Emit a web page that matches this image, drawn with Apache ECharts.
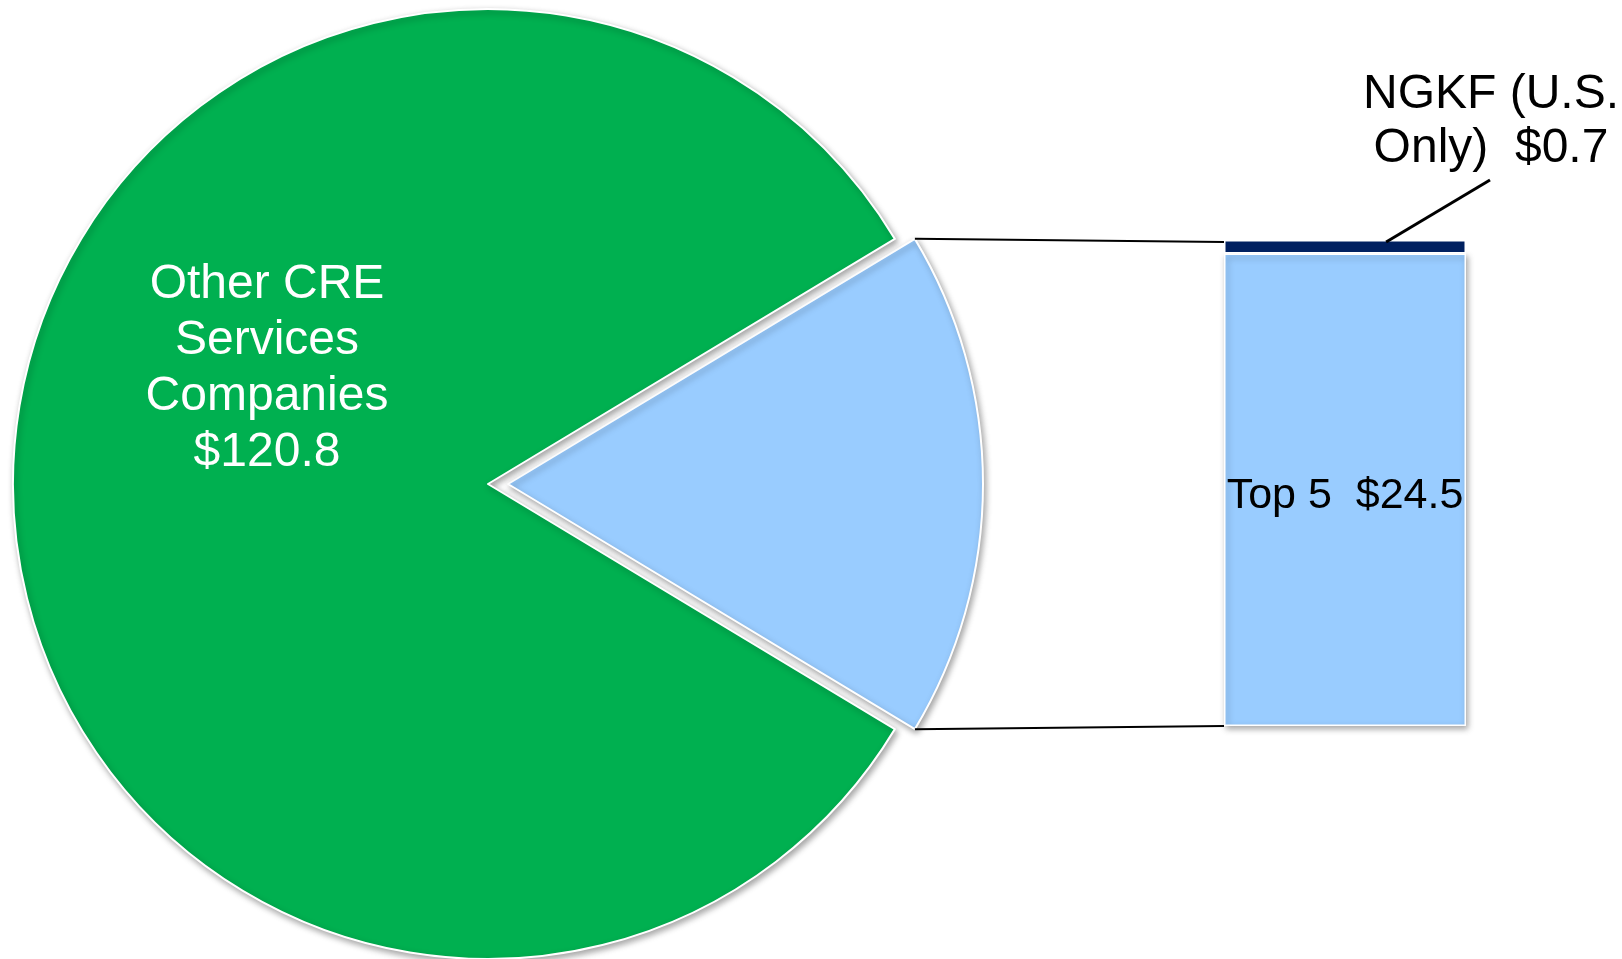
<!DOCTYPE html>
<html>
<head>
<meta charset="utf-8">
<script src="https://cdn.jsdelivr.net/npm/echarts@6/dist/echarts.min.js"></script>
<style>
html,body{margin:0;padding:0;background:#fff;}
#chart{width:1622px;height:959px;}
</style>
</head>
<body>
<div id="chart"></div>
<script>
// ---- data ----
const pieNames = ['Top 5 + NGKF', 'Other CRE Services Companies'];
const otherValue = 120.8;
const otherLabelLines = ['Other CRE', 'Services', 'Companies'];
const barNames = ['Top 5', 'NGKF (U.S. Only)'];
const barValues = [24.5, 0.7];
const barLabelTexts = ['Top 5  $24.5', 'NGKF (U.S.\nOnly)  $0.7'];

// ---- derived ----
const barTotal = barValues.reduce((a, b) => a + b, 0);
const pieTotal = barTotal + otherValue;
const halfAngle = 180 * barTotal / pieTotal; // degrees

// layout (styles/positions only)
const FONT = '"Liberation Sans", Arial, sans-serif';
const pieCenter = [488, 484];
const pieR = 475;
const explode = 20;
const grid = { left: 1224, top: 240, width: 242, height: 486 };

const chart = echarts.init(document.getElementById('chart'), null, { renderer: 'canvas' });

const shadow = { shadowBlur: 6, shadowOffsetX: 2, shadowOffsetY: 3, shadowColor: 'rgba(0,0,0,0.35)' };

const option = {
  animation: false,
  backgroundColor: '#ffffff',
  grid: { left: grid.left, top: grid.top, width: grid.width, height: grid.height },
  xAxis: { type: 'category', data: ['Breakdown'], show: false },
  yAxis: { type: 'value', min: 0, max: barTotal, show: false, splitLine: { show: false } },
  series: [
    {
      type: 'pie',
      center: pieCenter,
      radius: pieR,
      startAngle: halfAngle,
      clockwise: true,
      selectedMode: 'single',
      selectedOffset: explode,
      avoidLabelOverlap: false,
      itemStyle: Object.assign({ borderColor: '#ffffff', borderWidth: 2 }, shadow),
      emphasis: { disabled: true },
      label: {
        show: true,
        position: 'inside',
        color: '#ffffff',
        fontFamily: FONT,
        fontSize: 48,
        lineHeight: 56,
        align: 'center'
      },
      labelLine: { show: false },
      labelLayout: function (params) {
        if (params.dataIndex === 1) {
          return { x: 267, y: 369, align: 'center', verticalAlign: 'middle' };
        }
        return {};
      },
      data: [
        { name: pieNames[0], value: barTotal, selected: true, itemStyle: { color: '#99CCFF' }, label: { show: false } },
        {
          name: pieNames[1], value: otherValue, itemStyle: { color: '#00B050' },
          label: { formatter: otherLabelLines.join('\n') + '\n$' + otherValue.toFixed(1) }
        }
      ]
    },
    {
      type: 'bar',
      name: barNames[0],
      stack: 'bd',
      barWidth: '100%',
      data: [barValues[0]],
      itemStyle: Object.assign({ color: '#99CCFF', borderColor: '#ffffff', borderWidth: 1.5 }, shadow),
      emphasis: { disabled: true },
      label: {
        show: true,
        position: 'inside',
        offset: [0, 6],
        formatter: barLabelTexts[0],
        color: '#000000',
        fontFamily: FONT,
        fontSize: 43
      }
    },
    {
      type: 'bar',
      name: barNames[1],
      stack: 'bd',
      barWidth: '100%',
      data: [barValues[1]],
      itemStyle: { color: '#002060', borderColor: '#ffffff', borderWidth: 1.5 },
      emphasis: { disabled: true },
      label: {
        show: true,
        position: 'top',
        formatter: barLabelTexts[1],
        color: '#000000',
        fontFamily: FONT,
        fontSize: 48,
        lineHeight: 54,
        align: 'center'
      },
      labelLayout: function () {
        return { x: 1491, y: 122, align: 'center', verticalAlign: 'middle' };
      }
    }
  ]
};

chart.setOption(option);

// connector lines computed from pie geometry and bar axis
const rad = halfAngle * Math.PI / 180;
const cxE = pieCenter[0] + explode;
const cy = pieCenter[1];
const pTop = [cxE + pieR * Math.cos(rad), cy - pieR * Math.sin(rad)];
const pBot = [cxE + pieR * Math.cos(rad), cy + pieR * Math.sin(rad)];
const yTop = chart.convertToPixel({ yAxisIndex: 0 }, barTotal);
const yBot = chart.convertToPixel({ yAxisIndex: 0 }, 0);
const xLeft = grid.left;
const xLeader = grid.left + grid.width * 0.67;

chart.setOption({
  graphic: [
    { type: 'line', z: 10, shape: { x1: pTop[0], y1: pTop[1], x2: xLeft, y2: yTop + 2 }, style: { stroke: '#000', lineWidth: 2 } },
    { type: 'line', z: 10, shape: { x1: pBot[0], y1: pBot[1], x2: xLeft, y2: yBot }, style: { stroke: '#000', lineWidth: 2 } },
    { type: 'line', z: 10, shape: { x1: 1490, y1: 180, x2: xLeader, y2: yTop + 2 }, style: { stroke: '#000', lineWidth: 3 } }
  ]
});
</script>
</body>
</html>
